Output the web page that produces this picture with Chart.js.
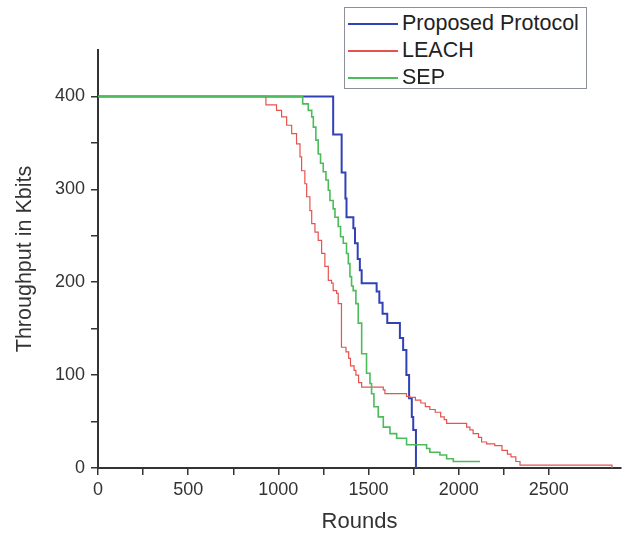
<!DOCTYPE html>
<html>
<head>
<meta charset="utf-8">
<script src="https://cdn.jsdelivr.net/npm/chart.js@4.4.1/dist/chart.umd.min.js"></script>
<style>
  html, body { margin: 0; padding: 0; background: #fff; }
  #wrap { position: relative; width: 624px; height: 538px; }
  #legend {
    position: absolute; left: 344px; top: 7px; width: 243px; height: 82px;
    box-sizing: border-box; border: 1.5px solid #8b909a; background: #fff;
    font-family: "Liberation Sans", Arial, sans-serif; font-size: 21.5px; color: #222;
  }
  #legend .row { position: absolute; left: 0; width: 240px; height: 27px; line-height: 27px; white-space: nowrap; }
  #legend .swatch { position: absolute; left: 3px; top: 13px; width: 50px; height: 2px; }
  #legend .txt { position: absolute; left: 57px; top: 0; }
</style>
</head>
<body>
<div id="wrap">
  <canvas id="chart" width="624" height="538"></canvas>
  <div id="legend"></div>
</div>
<script>
/* ─── Data ──────────────────────────────────────────────────── */
const seriesNames = ['Proposed Protocol', 'LEACH', 'SEP'];

// each point = round at which the value steps down, and the new value
const proposedRounds = [0, 1304, 1351, 1372, 1378, 1416, 1425, 1440, 1452, 1462, 1545, 1560, 1578, 1604, 1674, 1692, 1710, 1725, 1740, 1748, 1763];
const proposedThru   = [400, 359, 318, 290, 270, 258, 242, 225, 213, 199, 190, 178, 166, 156, 140, 127, 100, 75, 55, 41, 0];

const leachRounds = [0, 931, 990, 1018, 1046, 1074, 1101, 1120, 1129, 1147, 1157, 1175, 1185, 1203, 1221, 1240, 1258, 1277, 1295, 1304, 1323, 1332, 1350, 1375, 1390, 1400, 1420, 1430, 1445, 1462, 1582, 1591, 1711, 1729, 1760, 1790, 1815, 1840, 1870, 1900, 1920, 1933, 2044, 2062, 2080, 2110, 2127, 2155, 2200, 2240, 2270, 2290, 2317, 2340, 2850];
const leachThru   = [400, 391, 385, 378, 369, 360, 349, 335, 320, 306, 292, 277, 263, 254, 245, 231, 217, 202, 199, 191, 188, 177, 130, 125, 118, 110, 105, 100, 92, 87, 84, 80, 77, 76, 73, 70, 66, 63, 60, 55, 52, 48, 44, 41, 37, 33, 28, 26, 24, 19, 15, 12, 7, 3, 0];

const sepRounds = [0, 1135, 1166, 1185, 1194, 1208, 1221, 1234, 1249, 1264, 1277, 1286, 1304, 1314, 1332, 1345, 1360, 1378, 1388, 1397, 1406, 1415, 1430, 1443, 1462, 1489, 1508, 1517, 1530, 1554, 1582, 1619, 1656, 1711, 1822, 1840, 1896, 1933, 1970, 2118];
const sepThru   = [400, 392, 385, 378, 367, 353, 338, 328, 319, 310, 299, 288, 279, 270, 260, 249, 242, 231, 220, 206, 196, 191, 177, 156, 123, 102, 91, 80, 66, 55, 44, 37, 32, 25, 21, 17, 14, 10, 7, 7];

const xTickLabels = [0, 500, 1000, 1500, 2000, 2500];
const yTickLabels = [0, 100, 200, 300, 400];

const colors = ['#3142b5', '#e5534f', '#4cbc5b'];
const widths = [2, 1.2, 1.6];

/* ─── Build ─────────────────────────────────────────────────── */
const FONT = '"Liberation Sans", Arial, sans-serif';
const toPts = (xs, ys) => xs.map((x, i) => ({ x: x, y: ys[i] }));
const allSeries = [toPts(proposedRounds, proposedThru), toPts(leachRounds, leachThru), toPts(sepRounds, sepThru)];
const drawOrder = [2, 1, 0]; // SEP on top

new Chart(document.getElementById('chart'), {
  type: 'line',
  data: {
    datasets: allSeries.map((pts, i) => ({
      label: seriesNames[i],
      data: pts,
      borderColor: colors[i],
      borderWidth: widths[i],
      stepped: 'before',
      pointRadius: 0,
      fill: false,
      order: drawOrder[i]
    }))
  },
  options: {
    responsive: false,
    animation: false,
    layout: { padding: { top: 50, right: 3, left: 0, bottom: 0 } },
    plugins: { legend: { display: false }, tooltip: { enabled: false } },
    scales: {
      x: {
        type: 'linear', min: 0, max: 2900,
        border: { display: true, color: '#333', width: 2 },
        grid: { drawOnChartArea: false, drawTicks: true, tickLength: 7, color: '#333', lineWidth: 1.5 },
        ticks: {
          stepSize: 250, autoSkip: false, maxRotation: 0, padding: 4,
          color: '#333', font: { size: 18, family: FONT },
          callback: v => xTickLabels.includes(v) ? String(v) : ''
        },
        afterBuildTicks: s => { s.ticks = s.ticks.filter(t => t.value % 250 === 0 && t.value <= 2750); },
        afterFit: s => { s.height = 70; },
        title: { display: true, text: 'Rounds', color: '#333', font: { size: 22, family: FONT }, padding: { top: 0, bottom: 3 } }
      },
      y: {
        min: 0, max: 450,
        border: { display: true, color: '#333', width: 2 },
        grid: { drawOnChartArea: false, drawTicks: true, tickLength: 7, color: '#333', lineWidth: 1.5 },
        ticks: {
          stepSize: 50, padding: 6, autoSkip: false,
          color: '#333', font: { size: 18, family: FONT },
          callback: v => yTickLabels.includes(v) ? String(v) : ''
        },
        afterBuildTicks: s => { s.ticks = s.ticks.filter(t => t.value % 50 === 0 && t.value <= 400); },
        afterFit: s => { s.width = 98; },
        title: { display: true, text: 'Throughput in Kbits', color: '#333', font: { size: 21.5, family: FONT }, padding: { top: 12, bottom: 0 } }
      }
    }
  }
});

/* ─── HTML legend with a box ───────────────────────────────── */
const legend = document.getElementById('legend');
seriesNames.forEach((name, i) => {
  const row = document.createElement('div');
  row.className = 'row';
  row.style.top = (2 + i * 27) + 'px';
  const sw = document.createElement('span');
  sw.className = 'swatch';
  sw.style.background = colors[i];
  sw.style.height = Math.max(1.5, widths[i]) + 'px';
  const tx = document.createElement('span');
  tx.className = 'txt';
  tx.textContent = name;
  row.appendChild(sw);
  row.appendChild(tx);
  legend.appendChild(row);
});
</script>
</body>
</html>
